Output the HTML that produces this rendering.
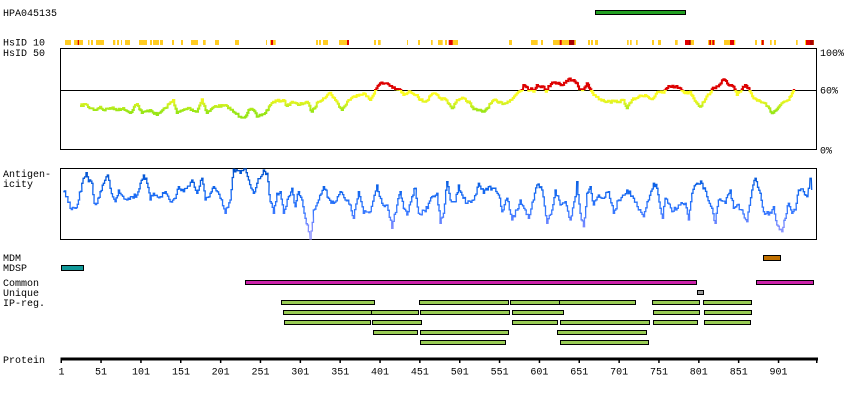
<!DOCTYPE html>
<html><head><meta charset="utf-8"><style>
html,body{margin:0;padding:0;background:#fff;}
svg{display:block;}
text{font-family:"Liberation Mono",monospace;font-size:10px;fill:#000;}
</style></head><body>
<svg width="850" height="400" viewBox="0 0 850 400" xmlns="http://www.w3.org/2000/svg">
<defs>
<linearGradient id="hs" gradientUnits="userSpaceOnUse" x1="0" y1="48" x2="0" y2="150">
<stop offset="0" stop-color="#dd0000"/><stop offset="0.41" stop-color="#dd0000"/>
<stop offset="0.412" stop-color="#ffff22"/><stop offset="0.5" stop-color="#f4f820"/>
<stop offset="0.56" stop-color="#ccf020"/><stop offset="0.62" stop-color="#99e615"/><stop offset="1" stop-color="#88dd10"/>
</linearGradient>
<linearGradient id="ag" gradientUnits="userSpaceOnUse" x1="0" y1="168" x2="0" y2="240">
<stop offset="0" stop-color="#0050c8"/><stop offset="0.3" stop-color="#1166ee"/>
<stop offset="0.6" stop-color="#3377ff"/><stop offset="0.8" stop-color="#7788ff"/><stop offset="1" stop-color="#aaaaff"/>
</linearGradient>
</defs>

<text x="3" y="16">HPA045135</text>
<rect x="595.5" y="10.5" width="90" height="4" fill="#22a022" stroke="#000" stroke-width="1"/>

<text x="3" y="45.5">HsID 10</text>
<text x="3" y="56">HsID 50</text>

<g fill="#ffcc22">
<rect x="65" y="40" width="6" height="5"/><rect x="74" y="40" width="9" height="5"/>
<rect x="88" y="40" width="1.5" height="5"/><rect x="91" y="40" width="2" height="5"/>
<rect x="96" y="40" width="8" height="5"/><rect x="113" y="40" width="2.3" height="5"/>
<rect x="117" y="40" width="2" height="5"/><rect x="121" y="40" width="1" height="5"/>
<rect x="125" y="40" width="5" height="5"/><rect x="139" y="40" width="8" height="5"/>
<rect x="150" y="40" width="2" height="5"/><rect x="153" y="40" width="6" height="5"/>
<rect x="160" y="40" width="3" height="5"/><rect x="172" y="40" width="2" height="5"/>
<rect x="181" y="40" width="2" height="5"/><rect x="191" y="40" width="7" height="5"/>
<rect x="203" y="40" width="2.7" height="5"/><rect x="215" y="40" width="4" height="5"/>
<rect x="235" y="40" width="4" height="5"/><rect x="266" y="40" width="1" height="5"/>
<rect x="270" y="40" width="5.7" height="5"/><rect x="316" y="40" width="2" height="5"/>
<rect x="319" y="40" width="2" height="5"/><rect x="323" y="40" width="5" height="5"/>
<rect x="339" y="40" width="10" height="5"/><rect x="374" y="40" width="2" height="5"/>
<rect x="378" y="40" width="2.7" height="5"/><rect x="407" y="40" width="1" height="5"/>
<rect x="418" y="40" width="2" height="5"/><rect x="431" y="40" width="1.7" height="5"/>
<rect x="438" y="40" width="4.7" height="5"/><rect x="445" y="40" width="2" height="5"/>
<rect x="449" y="40" width="9" height="5"/><rect x="509" y="40" width="3" height="5"/>
<rect x="531" y="40" width="6.7" height="5"/><rect x="541" y="40" width="2" height="5"/>
<rect x="553" y="40" width="23" height="5"/><rect x="588" y="40" width="2" height="5"/>
<rect x="591" y="40" width="2" height="5"/><rect x="595" y="40" width="3" height="5"/>
<rect x="627" y="40" width="1.7" height="5"/><rect x="630" y="40" width="1.7" height="5"/>
<rect x="636" y="40" width="1.7" height="5"/><rect x="652" y="40" width="2" height="5"/>
<rect x="658" y="40" width="3" height="5"/><rect x="675" y="40" width="2.7" height="5"/>
<rect x="685" y="40" width="9" height="5"/><rect x="708" y="40" width="7" height="5"/>
<rect x="724" y="40" width="11.3" height="5"/><rect x="755" y="40" width="2" height="5"/>
<rect x="761" y="40" width="3" height="5"/><rect x="770" y="40" width="1.7" height="5"/>
<rect x="774" y="40" width="2" height="5"/><rect x="796" y="40" width="1.7" height="5"/>
<rect x="805" y="40" width="9" height="5"/>
</g>
<g fill="#e00000">
<rect x="77.7" y="40" width="1.3" height="5"/><rect x="271" y="40" width="2" height="5"/>
<rect x="347" y="40" width="2" height="5"/><rect x="448.7" y="40" width="4" height="5"/>
<rect x="559.7" y="40" width="2" height="5"/><rect x="685" y="40" width="4" height="5"/>
<rect x="709.3" y="40" width="1.7" height="5"/><rect x="712.3" y="40" width="2" height="5"/>
<rect x="730" y="40" width="4" height="5"/><rect x="761.7" y="40" width="2" height="5"/>
<rect x="806" y="40" width="4" height="5"/>
</g>
<g fill="#a80000">
<rect x="569" y="40" width="5.3" height="5"/><rect x="689" y="40" width="1.7" height="5"/>
<rect x="810" y="40" width="3.7" height="5"/>
</g>

<rect x="60.5" y="48.5" width="756" height="101" fill="none" stroke="#000" stroke-width="1"/>
<line x1="60" y1="90.5" x2="817" y2="90.5" stroke="#000" stroke-width="1"/>
<text x="820" y="56">100%</text>
<text x="820" y="93.5">60%</text>
<text x="820" y="153.5">0%</text>
<polyline id="hsl" fill="none" stroke="url(#hs)" stroke-width="2" points="80,106 85,104 88,107 95,110 100,106.7 103,110 110,108 120,110 123,108 130,113 135,105 136.7,104 141.7,113 150,110 156.7,115 165,108 173,100 176.7,113 188,108 196.7,111.7 201.7,99.3 206.7,113 215,106 226.7,106 233,111.7 240,116.7 245,116.7 248.3,110 253,110 256.7,116.7 265,113 270,105 273,101.7 283,100 286.7,106 291.7,101.7 298,105 306.7,101.7 311.7,111.7 318,101.7 323,98.3 330,92.7 335,100 341.7,110 348.3,100 356.7,95 363.3,93.3 370,100 375,90 380,83.3 386.7,83.3 395,89.3 400,90 403.3,95 410,91.7 416.7,95 420,100 425,101.7 433.3,93.3 440,98.3 445,99.3 451.7,108.3 456.7,100 463.3,98.3 470,103.3 473.3,109.3 483.3,111.7 486.7,108.3 493.3,100 498.3,102.7 505,103.3 510,100 516.7,93.3 521.7,90 523.3,85 526.7,87.3 528.3,90.7 531,88.3 533.3,91.7 536.7,85 543.3,86.7 545.7,91.7 548.3,86 553.3,82.7 558.3,82.7 561.7,85 565,82.7 568.3,79.3 573.3,80 576.7,83.3 579,89.3 583.3,89.3 586.7,83.3 590,89.3 593.3,95 600,99.3 606.7,101.7 618.3,101.7 623.3,100 626.7,108.3 631.7,100 638.3,96.7 645,95 651.7,99.3 658.3,91.7 663.3,92.7 668.3,86 675,86.7 680,88.3 685,93.3 690,91.7 693.3,98.3 700,106.7 705,99.3 711.7,89.3 715,88.3 723.3,79.3 728.3,85 733.3,86.7 736.7,95 740,91.7 741.7,89.3 745,85 748.3,88.3 753.3,98.3 758.3,100 765,103.3 771.7,113.3 776.7,109.3 780,105 788.3,100 791.7,93.3 795,90"/>

<text x="3" y="177">Antigen-</text>
<text x="3" y="187">icity</text>
<rect x="60.5" y="168.5" width="756" height="71" fill="none" stroke="#000" stroke-width="1"/>
<polyline id="agl" fill="none" stroke="url(#ag)" stroke-width="1.3" points="63.3,191.7 66.7,196.7 70,208.3 75,208.3 78.3,200 81.7,183.3 86,172.7 88.3,181.7 91.7,183.3 94,203.3 96.7,203.3 100,191.7 103.3,183.3 107.3,175 110,188.3 115,201.7 118.3,190 126.7,200 131.7,196.7 136.7,195 140,183.3 143.3,175 146.7,183.3 150,200 153.3,193.3 160,196.7 165,191.7 170,201.7 175,198.3 178.3,186.7 183.3,191.7 191.7,180 196.7,193.3 201.7,178.3 205,200 210,193.3 213.3,186.7 220,198.3 225,213.3 230,200 233.3,169.3 240,173.3 245,168.3 248.3,180 253.3,193.3 256.7,183.3 263.3,170 266.7,173.3 270,201.7 273.3,213.3 276.7,193.3 280,191.7 283.3,213.3 288.3,196.7 291.7,188.3 295,206.7 298.3,191.7 301.7,200 305,218.3 308.3,231.7 310,240 313.3,210 318.3,200 323.3,186.7 328.3,198.3 333.3,203.3 340,191.7 345,200 350,205 353.3,218.3 358.3,191.7 363.3,213.3 370,211.7 376.7,185 381.7,203.3 386.7,205 391.7,228.3 396.7,205 400,191.7 403.3,208.3 406.7,215 411.7,196.7 415,188.3 418.3,213.3 425,211.7 428.3,203.3 431.7,196.7 436.7,193.3 440,223.3 443.3,213.3 446.7,181.7 450,200 455,201.7 458.3,185 461.7,195 466.7,203.3 473.3,200 478.3,183.3 483.3,193.3 488.3,186.7 493.3,188.3 498.3,195 501.7,211.7 506.7,198.3 511.7,220 516.7,210 520,200 525,210 528.3,218.3 533.3,200 536.7,185 541.7,190 546.7,223.3 551.7,210 555,190 560,205 565,201.7 570,220 575,196.7 576.7,181.7 580,213.3 583.3,226.7 586.7,193.3 590,186.7 593.3,205 598.3,195 603.3,198.3 608.3,191.7 613.3,213.3 618.3,200 626.7,190 633.3,198.3 638.3,210 643.3,216.7 648.3,200 653.3,183.3 656.7,188.3 660,208.3 662.3,218.3 665,198.3 671.7,211.7 678.3,205 685,203.3 688.3,220 691.7,193.3 696.7,183.3 701.7,183.3 706.7,196.7 711.7,208.3 715,223.3 718.3,200 725,203.3 730,190 733.3,208.3 736.7,205 741.7,210 746.7,221.7 751.7,190 755,178.3 760,193.3 763.3,211.7 768.3,215 773.3,206.7 776.7,225 781.7,231.7 785,218.3 788.3,203.3 791.7,213.3 795,210 798.3,190 803.3,191.7 806.7,196.7 808.3,188.3 810,178.3 811.7,190"/>

<text x="3" y="261">MDM</text>
<text x="3" y="271">MDSP</text>
<text x="3" y="286">Common</text>
<text x="3" y="296">Unique</text>
<text x="3" y="306">IP-reg.</text>
<text x="3" y="363">Protein</text>

<g stroke="#000" stroke-width="1">
<rect x="763.5" y="255.5" width="17" height="5" fill="#c07000"/>
<rect x="61.5" y="265.5" width="22" height="5" fill="#119999"/>
<rect x="245.5" y="280.5" width="451" height="4" fill="#cc22aa"/>
<rect x="756.5" y="280.5" width="57" height="4" fill="#cc22aa"/>
<rect x="697.5" y="290.5" width="6" height="4" fill="#999999"/>
<g fill="#99cc55">
<rect x="281.5" y="300.5" width="93" height="4"/><rect x="419.5" y="300.5" width="89" height="4"/>
<rect x="510.5" y="300.5" width="49" height="4"/><rect x="559.5" y="300.5" width="76" height="4"/>
<rect x="652.5" y="300.5" width="47" height="4"/><rect x="703.5" y="300.5" width="48" height="4"/>
<rect x="283.5" y="310.5" width="88" height="4"/><rect x="371.5" y="310.5" width="47" height="4"/>
<rect x="420.5" y="310.5" width="89" height="4"/><rect x="512.5" y="310.5" width="51" height="4"/>
<rect x="653.5" y="310.5" width="46" height="4"/><rect x="704.5" y="310.5" width="47" height="4"/>
<rect x="284.5" y="320.5" width="86" height="4"/><rect x="372.5" y="320.5" width="49" height="4"/>
<rect x="512.5" y="320.5" width="45" height="4"/><rect x="560.5" y="320.5" width="89" height="4"/>
<rect x="653.5" y="320.5" width="44" height="4"/><rect x="704.5" y="320.5" width="46" height="4"/>
<rect x="373.5" y="330.5" width="44" height="4"/><rect x="420.5" y="330.5" width="88" height="4"/>
<rect x="557.5" y="330.5" width="89" height="4"/>
<rect x="420.5" y="340.5" width="85" height="4"/><rect x="560.5" y="340.5" width="88" height="4"/>
</g>
</g>

<rect x="61" y="357.5" width="757" height="3" fill="#000"/>
<g fill="#000">
<rect x="60.5" y="357.5" width="1.5" height="5.5"/><rect x="100.3" y="357.5" width="1.5" height="5.5"/>
<rect x="140.2" y="357.5" width="1.5" height="5.5"/><rect x="180" y="357.5" width="1.5" height="5.5"/>
<rect x="219.9" y="357.5" width="1.5" height="5.5"/><rect x="259.7" y="357.5" width="1.5" height="5.5"/>
<rect x="299.6" y="357.5" width="1.5" height="5.5"/><rect x="339.4" y="357.5" width="1.5" height="5.5"/>
<rect x="379.3" y="357.5" width="1.5" height="5.5"/><rect x="419.1" y="357.5" width="1.5" height="5.5"/>
<rect x="459" y="357.5" width="1.5" height="5.5"/><rect x="498.8" y="357.5" width="1.5" height="5.5"/>
<rect x="538.7" y="357.5" width="1.5" height="5.5"/><rect x="578.5" y="357.5" width="1.5" height="5.5"/>
<rect x="618.4" y="357.5" width="1.5" height="5.5"/><rect x="658.2" y="357.5" width="1.5" height="5.5"/>
<rect x="698.1" y="357.5" width="1.5" height="5.5"/><rect x="737.9" y="357.5" width="1.5" height="5.5"/>
<rect x="777.8" y="357.5" width="1.5" height="5.5"/><rect x="816" y="357.5" width="1.5" height="5.5"/>
</g>
<g text-anchor="middle">
<text x="61.5" y="374.5">1</text><text x="101" y="374.5">51</text><text x="141" y="374.5">101</text>
<text x="181" y="374.5">151</text><text x="220.6" y="374.5">201</text><text x="260.5" y="374.5">251</text>
<text x="300.3" y="374.5">301</text><text x="340.2" y="374.5">351</text><text x="380" y="374.5">401</text>
<text x="419.9" y="374.5">451</text><text x="459.7" y="374.5">501</text><text x="499.6" y="374.5">551</text>
<text x="539.4" y="374.5">601</text><text x="579.3" y="374.5">651</text><text x="619.1" y="374.5">701</text>
<text x="659" y="374.5">751</text><text x="698.8" y="374.5">801</text><text x="738.7" y="374.5">851</text>
<text x="778.5" y="374.5">901</text>
</g>
</svg>
<script>
(function(){
  var seed=7;function rnd(){seed=(seed*16807)%2147483647;return (seed/2147483647)-0.5;}
  function roughen(id,amp,step,ymin,ymax){
    var el=document.getElementById(id);if(!el)return;
    var pts=el.getAttribute('points').trim().split(/\s+/).map(function(p){var a=p.split(',');return [+a[0],+a[1]];});
    var out=[];
    for(var i=0;i<pts.length-1;i++){
      var a=pts[i],b=pts[i+1];var n=Math.max(1,Math.round((b[0]-a[0])/step));
      for(var k=0;k<n;k++){
        var t=k/n;var x=a[0]+(b[0]-a[0])*t;var y=a[1]+(b[1]-a[1])*t;
        if(k>0){y+=rnd()*amp*2;}
        y=Math.max(ymin,Math.min(ymax,y));
        out.push(x.toFixed(1)+','+y.toFixed(1));
        out.push((x+step).toFixed(1)+','+y.toFixed(1));
      }
    }
    var l=pts[pts.length-1];out.push(l[0]+','+l[1]);
    el.setAttribute('points',out.join(' '));
  }
  roughen('hsl',1.2,1.3,49,149);
  roughen('agl',2.5,1.3,169,239);
})();
</script>
</body></html>
